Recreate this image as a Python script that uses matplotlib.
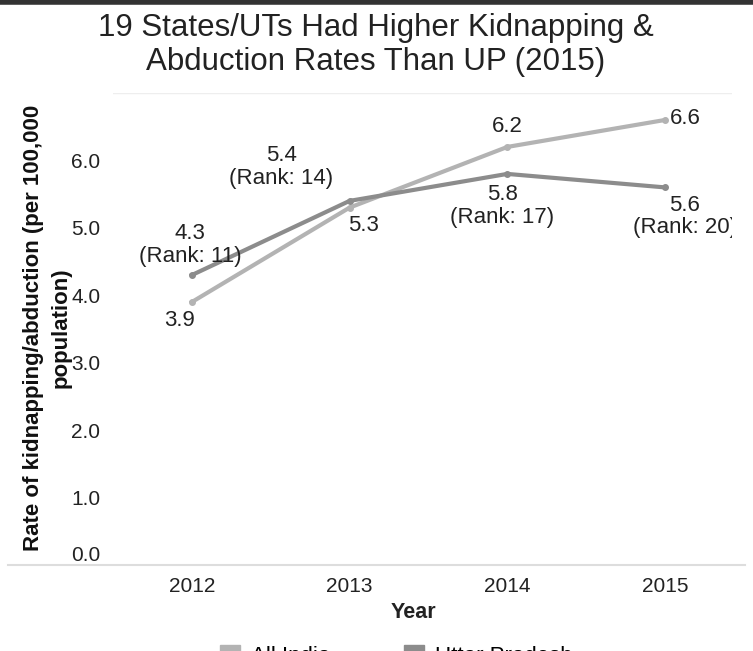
import numpy as np
import matplotlib
matplotlib.use("Agg")
import matplotlib.pyplot as plt
from matplotlib.patches import Patch
from matplotlib.lines import Line2D

plt.rcParams["font.family"] = ["Liberation Sans", "DejaVu Sans"]

years = ["2012", "2013", "2014", "2015"]
all_india = [3.9, 5.3, 6.2, 6.6]
uttar_pradesh = [4.3, 5.4, 5.8, 5.6]
up_rank = [11, 14, 17, 20]
y_ticks = [0.0, 1.0, 2.0, 3.0, 4.0, 5.0, 6.0]

c_ai = "#b3b3b3"
c_up = "#8c8c8c"

W, H = 753, 651
fig = plt.figure(figsize=(W / 100, H / 100), dpi=100)
ax = fig.add_axes([113 / W, 1 - 565 / H, (732 - 113) / W, (565 - 93) / H])

x = np.arange(len(years))
ax.plot(x, all_india, color=c_ai, lw=3, marker="o", ms=4, zorder=3)
ax.plot(x, uttar_pradesh, color=c_up, lw=3, marker="o", ms=4, zorder=3)

ax.set_xlim(-0.5, 3.425)
ax.set_ylim(0, 7)
ax.set_xticks(x, years)
ax.set_yticks(y_ticks, [f"{v:.1f}" for v in y_ticks])
ax.tick_params(length=0, labelsize=15, colors="#222222")
ax.tick_params(axis="y", pad=9)
ax.tick_params(axis="x", pad=9)
ax.get_yticklabels()[0].set_va("bottom")
for s in ax.spines.values():
    s.set_visible(False)
ax.axhline(7, color="#eeeeee", lw=1)

# value labels (offsets in pixels); UP labels clipped to the plot area like the source
ai_off = [(-12, -18), (14, -18), (0, 20), (20, 1)]
up_off = [(-2, 30), (-68, 34), (-5, -32), (20, -29)]
for i in range(len(years)):
    ax.annotate(f"{all_india[i]}", (x[i], all_india[i]), xytext=ai_off[i],
                textcoords="offset pixels", ha="center", va="center",
                fontsize=16, color="#222222", annotation_clip=False)
    t = ax.annotate(f"{uttar_pradesh[i]}\n(Rank: {up_rank[i]})", (x[i], uttar_pradesh[i]),
                    xytext=up_off[i], textcoords="offset pixels", ha="center",
                    va="center", fontsize=16, color="#222222", linespacing=1.1)
    t.set_clip_on(True)
    t.set_clip_box(ax.bbox)

# bottom baseline across the figure
fig.add_artist(Line2D([8 / W, 745 / W], [1 - 565 / H] * 2, color="#dddddd", lw=1.5))
# dark top border
fig.add_artist(Line2D([0, 1], [1 - 2 / H] * 2, color="#333333", lw=4))

fig.text(376 / W, 1 - 45 / H, "19 States/UTs Had Higher Kidnapping &\nAbduction Rates Than UP (2015)",
         ha="center", va="center", fontsize=22.5, color="#222222", linespacing=1.15)
fig.text(413 / W, 1 - 612 / H, "Year", ha="center", va="center", fontsize=15.5,
         fontweight="bold", color="#222222")
fig.text(47 / W, 1 - 328 / H, "Rate of kidnapping/abduction (per 100,000\npopulation)",
         rotation=90, ha="center", va="center", multialignment="center",
         fontsize=16, fontweight="bold", color="#111111", linespacing=1.4)

handles = [Patch(color=c_ai, label="All India"), Patch(color=c_up, label="Uttar Pradesh")]
fig.legend(handles=handles, loc="upper center", bbox_to_anchor=(396 / W, 1 - 636 / H),
           ncol=2, frameon=False, fontsize=16, handlelength=0.9, handleheight=0.9,
           handletextpad=0.5, columnspacing=3.3, borderaxespad=0)

fig.savefig("out.png", dpi=100)
